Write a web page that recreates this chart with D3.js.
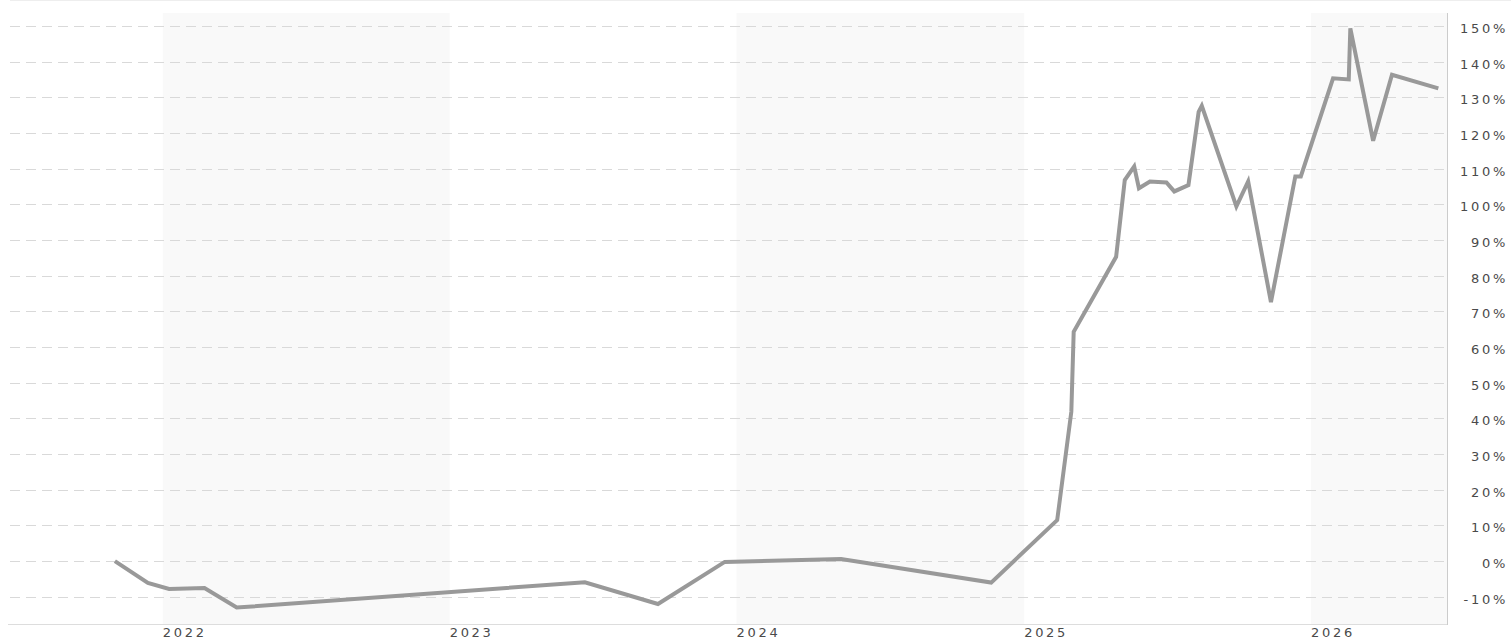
<!DOCTYPE html>
<html>
<head>
<meta charset="utf-8">
<script src="https://cdn.jsdelivr.net/npm/d3@7"></script>
<style>
  html, body { margin: 0; padding: 0; background: #fff; }
  svg { display: block; }
  text { font-family: "DejaVu Sans", Verdana, sans-serif; }
</style>
</head>
<body>
<svg id="chart" width="1511" height="639"></svg>
<script>
// ---- data ----
const dates = [
  "2021-11-01","2021-12-13","2022-01-09","2022-02-23","2022-04-05",
  "2023-06-22","2023-09-23","2023-12-17","2024-05-13","2024-11-20",
  "2025-02-12","2025-03-02","2025-03-05","2025-04-28","2025-05-09",
  "2025-05-21","2025-05-27","2025-06-10","2025-07-01","2025-07-11",
  "2025-07-29","2025-08-11","2025-08-15","2025-09-28","2025-10-13",
  "2025-11-11","2025-12-12","2025-12-19","2026-01-29","2026-02-18",
  "2026-02-20","2026-03-21","2026-04-14","2026-06-12"
];
const values = [
  0, -6.1, -7.8, -7.5, -13.0,
  -5.9, -12.0, -0.2, 0.6, -6.0,
  11.5, 41.9, 64.3, 85.3, 106.8,
  110.6, 104.5, 106.4, 106.1, 103.6,
  105.4, 125.9, 127.6, 99.4, 106.4,
  72.6, 107.8, 107.8, 135.3, 135.0,
  149.3, 117.8, 136.3, 132.5
];
const yTicks = [-10, 0, 10, 20, 30, 40, 50, 60, 70, 80, 90, 100, 110, 120, 130, 140, 150];
const xTickYears = ["2022", "2023", "2024", "2025", "2026"];
const shadedYears = ["2022", "2024", "2026"];
const domainStart = "2021-06-18";
const domainEnd = "2026-06-23";
const yDomain = [-17.6, 153.6];

// ---- layout ----
const parse = d3.utcParse("%Y-%m-%d");
const plotL = 8, plotR = 1447, plotT = 13, plotB = 624;

const x = d3.scaleUtc().domain([parse(domainStart), parse(domainEnd)]).range([plotL, plotR]);
const y = d3.scaleLinear().domain(yDomain).range([plotB, plotT]);

const svg = d3.select("#chart");

// top faint border
svg.append("line").attr("x1", 10).attr("x2", 1511).attr("y1", 0.5).attr("y2", 0.5)
  .attr("stroke", "#eeeeee").attr("stroke-width", 1);

// shaded year bands
shadedYears.forEach(yr => {
  const x0 = x(parse(yr + "-01-01"));
  const x1 = Math.min(plotR, x(parse((+yr + 1) + "-01-01")));
  svg.append("rect").attr("x", x0).attr("y", plotT).attr("width", x1 - x0).attr("height", plotB - plotT)
    .attr("fill", "#f9f9f9");
});

// dashed gridlines
svg.append("g").selectAll("line").data(yTicks).join("line")
  .attr("x1", 10).attr("x2", plotR)
  .attr("y1", d => Math.round(y(d)) + 0.5).attr("y2", d => Math.round(y(d)) + 0.5)
  .attr("stroke", "#d9d9d9").attr("stroke-width", 1).attr("stroke-dasharray", "10,6");

// axis lines
svg.append("line").attr("x1", plotL).attr("x2", plotR).attr("y1", plotB + 0.5).attr("y2", plotB + 0.5)
  .attr("stroke", "#dddddd");
svg.append("line").attr("x1", plotR + 0.5).attr("x2", plotR + 0.5).attr("y1", plotT).attr("y2", plotB + 1)
  .attr("stroke", "#cccccc");

// y labels
svg.append("g").selectAll("text").data(yTicks).join("text")
  .attr("x", 1508).attr("y", d => y(d) + 7)
  .attr("text-anchor", "end")
  .attr("font-size", 13).attr("letter-spacing", 2.7)
  .attr("fill", "#4a4a4a")
  .text(d => d + "%");

// x labels
svg.append("g").selectAll("text").data(xTickYears).join("text")
  .attr("x", d => x(parse(d + "-01-01")))
  .attr("y", 637)
  .attr("text-anchor", "start")
  .attr("font-size", 13).attr("letter-spacing", 2.7)
  .attr("fill", "#4a4a4a")
  .text(d => d);

// line
const pts = dates.map((d, i) => ({ date: parse(d), v: values[i] }));
const line = d3.line().x(d => x(d.date)).y(d => y(d.v));
svg.append("path").datum(pts)
  .attr("d", line)
  .attr("fill", "none")
  .attr("stroke", "#999999")
  .attr("stroke-width", 4)
  .attr("stroke-linejoin", "miter")
  .attr("stroke-miterlimit", 4);
</script>
</body>
</html>
